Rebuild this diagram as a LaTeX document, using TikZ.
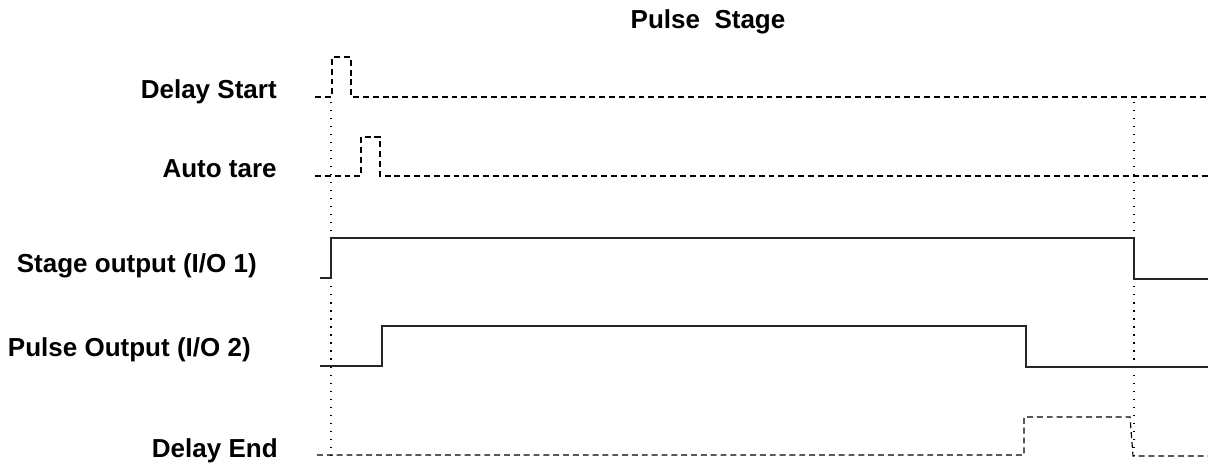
\documentclass[tikz,border=0pt]{standalone}
\usepackage{fontspec}
\setmainfont{Liberation Sans}
\usetikzlibrary{positioning}

\begin{document}
\begin{tikzpicture}[x=0.025cm,y=-0.025cm,
   font=\fontsize{18.5}{22}\selectfont\bfseries,
   lab/.style={anchor=base east,inner sep=0pt},
   sig/.style={line width=0.8pt,black!85},
   dsig/.style={line width=0.8pt,dash pattern=on 4.2pt off 2.8pt},
   mark line/.style={line width=0.8pt,dash pattern=on 0.8pt off 4.9pt}]
  \useasboundingbox (0,0) rectangle (1210,468);
  % title and row labels
  \node[anchor=base,inner sep=0pt] (title) at (708,28) {Pulse\ \ Stage};
  \node[lab] (lstart) at (277,98) {Delay Start};
  \node[lab] (ltare) at (277,177) {Auto tare};
  \node[lab] (lstage) at (257,272) {Stage output (I/O 1)};
  \node[lab] (lpulse) at (251,356) {Pulse Output (I/O 2)};
  \node[lab] (lend) at (278,457) {Delay End};
  % event markers
  \coordinate (t0) at (331,0);
  \coordinate (t1) at (1134,0);
  \draw[mark line] (t0 |- 0,102) -- (t0 |- 0,462);
  \draw[mark line] (t1 |- 0,102) -- (t1 |- 0,462);
  % signals
  \draw[dsig] (315,97) -- (332,97) -- (332,57) -- (351,57) -- (351,97) -- (1208,97);
  \draw[dsig] (315,176) -- (361,176) -- (361,137) -- (380,137) -- (380,176) -- (1208,176);
  \draw[sig] (320,278) -- (331,278) -- (331,238) -- (1134,238) -- (1134,279) -- (1208,279);
  \draw[sig] (320,366) -- (382,366) -- (382,326) -- (1026,326) -- (1026,367) -- (1208,367);
  \draw[dsig] (317,455) -- (1024,455) -- (1024,417) -- (1130,417) -- (1133,456) -- (1208,456);
\end{tikzpicture}
\end{document}
